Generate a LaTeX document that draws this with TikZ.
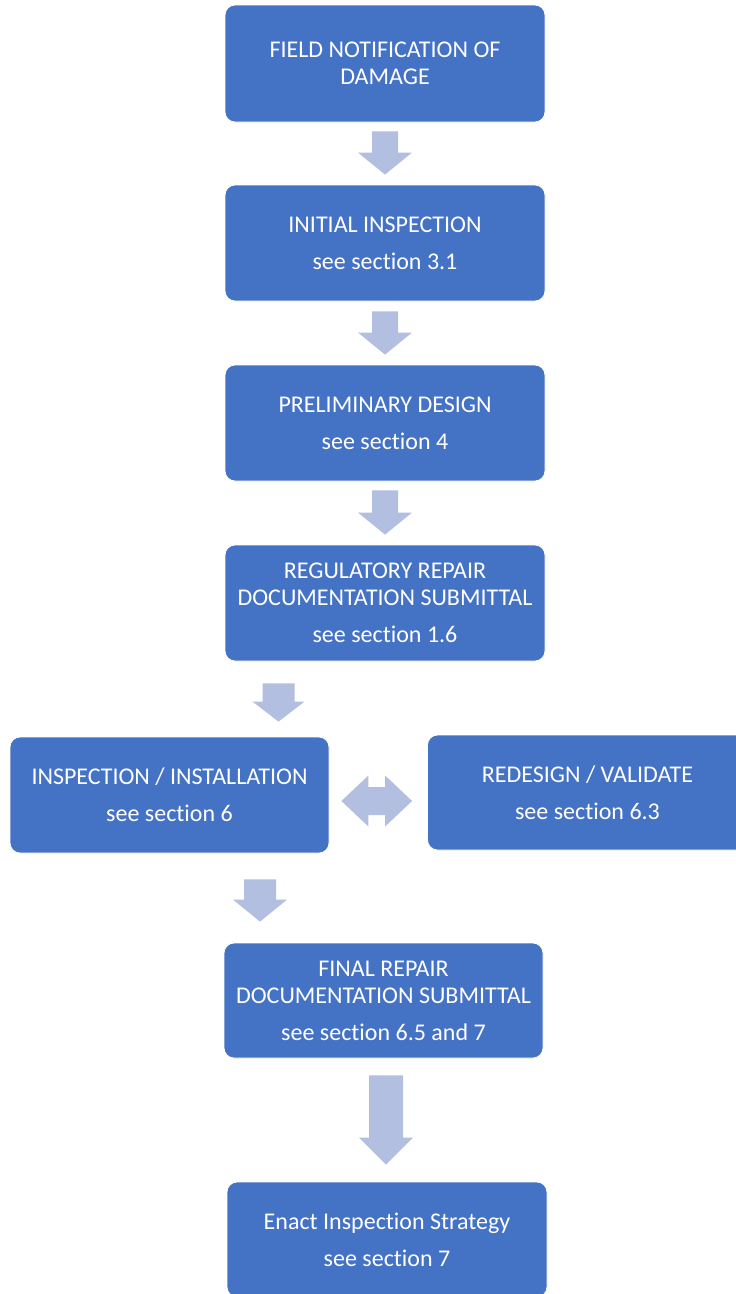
\documentclass[tikz,border=0pt]{standalone}
\usepackage{fontspec}
\setmainfont{Carlito}[Ligatures={NoCommon}]
\usetikzlibrary{calc}
\definecolor{boxblue}{HTML}{4472C4}
\definecolor{arrowc}{HTML}{B2BFE1}
\tikzset{
  stepbox/.style={rectangle, rounded corners=10pt, fill=boxblue, draw=white, line width=0.8pt,
    text=white, align=center, minimum width=320pt, minimum height=116pt, inner sep=0pt,
    font=\fontsize{24}{27}\selectfont},
}
% #1 top coordinate, #2 tip coordinate, #3 shaft half width, #4 head half width, #5 head length
\newcommand\blockdown[5]{%
  \fill[arrowc] let \p1=(#1), \p2=(#2) in
    (\x1-#3,\y1) -- (\x1+#3,\y1) -- (\x1+#3,\y2+#5) -- (\x1+#4,\y2+#5) -- (\x1,\y2)
    -- (\x1-#4,\y2+#5) -- (\x1-#3,\y2+#5) -- cycle;}
\begin{document}
\begin{tikzpicture}
\useasboundingbox (0,0) rectangle (736pt,-1294pt);
\clip (0,0) rectangle (736pt,-1294pt);

\node[stepbox, minimum height=117pt] (b1) at (385pt,-63.5pt) {FIELD NOTIFICATION OF\\DAMAGE};
\node[stepbox] (b2) at (385pt,-243pt) {INITIAL INSPECTION\\[10pt]see section 3.1};
\node[stepbox] (b3) at (385pt,-423pt) {PRELIMINARY DESIGN\\[10pt]see section 4};
\node[stepbox] (b4) at (385pt,-603pt) {REGULATORY REPAIR\\DOCUMENTATION SUBMITTAL\\[10pt]see section 1.6};
\node[stepbox, minimum width=319pt] (b5) at (169.5pt,-795pt) {INSPECTION / INSTALLATION\\[10pt]see section 6};
\node[stepbox, minimum height=115pt] (b6) at (587.5pt,-792.5pt) {REDESIGN / VALIDATE\\[10pt]see section 6.3};
\node[stepbox, minimum width=319pt, minimum height=115pt] (b7) at (383.5pt,-1000.5pt) {FINAL REPAIR\\DOCUMENTATION SUBMITTAL\\[10pt]see section 6.5 and 7};
\node[stepbox, minimum height=115pt] (b8) at (387pt,-1239.5pt) {Enact Inspection Strategy\\[10pt]see section 7};

% arrow anchors
\coordinate (a1t) at ($(b1.south)+(0,-9pt)$);
\coordinate (a1b) at ($(b2.north)+(0,10pt)$);
\coordinate (a2t) at ($(b2.south)+(0,-10pt)$);
\coordinate (a2b) at ($(b3.north)+(0,10pt)$);
\coordinate (a3t) at ($(b3.south)+(0,-9pt)$);
\coordinate (a3b) at ($(b4.north)+(0,10pt)$);
\coordinate (a4t) at ($(b4.south)+(-106.5pt,-22pt)$);
\coordinate (a4b) at ($(b5.north)+(109pt,15pt)$);
\coordinate (a5t) at ($(b5.south)+(90.5pt,-26pt)$);
\coordinate (a5b) at ($(b7.north)+(-123.5pt,21pt)$);
\coordinate (a6t) at ($(b7.south)+(2.5pt,-17pt)$);
\coordinate (a6b) at ($(b8.north)+(-1pt,17pt)$);

\blockdown{a1t}{a1b}{13pt}{27pt}{22pt}
\blockdown{a2t}{a2b}{13pt}{27pt}{22pt}
\blockdown{a3t}{a3b}{13pt}{27pt}{22pt}
\blockdown{a4t}{a4b}{16pt}{26pt}{20pt}
\blockdown{a5t}{a5b}{16pt}{27pt}{22pt}
\blockdown{a6t}{a6b}{17pt}{27pt}{27pt}

% double arrow between b5 and b6
\coordinate (dl) at ($(b5.east)+(12pt,-6pt)$);
\coordinate (dr) at ($(b6.west)+(-15pt,-3.5pt)$);
\fill[arrowc] let \p1=(dl), \p2=(dr) in
  (\x1,\y1) -- (\x1+27pt,\y1+25.5pt) -- (\x1+27pt,\y1+14pt) -- (\x2-27pt,\y1+14pt)
  -- (\x2-27pt,\y1+25.5pt) -- (\x2,\y1) -- (\x2-27pt,\y1-25.5pt) -- (\x2-27pt,\y1-14pt)
  -- (\x1+27pt,\y1-14pt) -- (\x1+27pt,\y1-25.5pt) -- cycle;
\end{tikzpicture}
\end{document}
